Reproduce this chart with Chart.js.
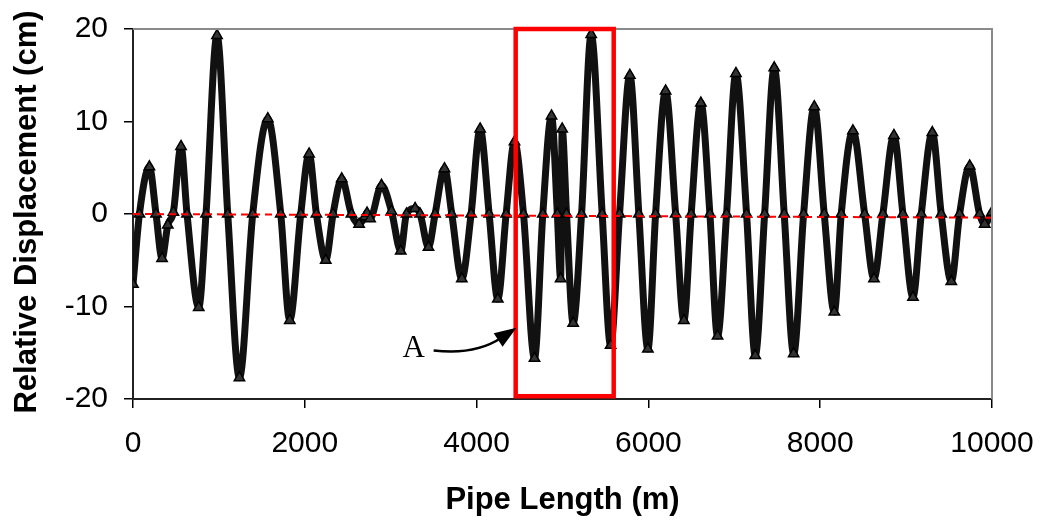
<!DOCTYPE html>
<html>
<head>
<meta charset="utf-8">
<script src="https://cdn.jsdelivr.net/npm/chart.js@4.4.1/dist/chart.umd.min.js"></script>
<style>
  html, body { margin: 0; padding: 0; background: #ffffff; }
  canvas { display: block; }
</style>
</head>
<body>
<canvas id="c" width="1045" height="523"></canvas>
<script>
// ---- Data ----
const pipeLength = [0,75,191,268,338,405,470,559,629,765,850,978,1103,1239,1394,1569,1720,1825,1953,2050,2135,2244,2329,2430,2543,2632,2700,2725,2760,2893,3009,3117,3184,3284,3342,3440,3517,3626,3711,3828,3936,4041,4146,4247,4344,4441,4546,4674,4771,4872,4940,4978,4996,5047,5124,5222,5334,5462,5560,5664,5784,5889,5994,6084,6200,6317,6413,6498,6611,6716,6805,6910,7019,7143,7244,7353,7465,7581,7691,7807,7931,8047,8164,8245,8381,8517,8626,8730,8858,8963,9080,9177,9305,9409,9526,9623,9740,9856,9915,10000];
const displacement = [-7.6,0,5.1,0,-4.8,-1.2,0.2,7.3,0,-10.1,0,19.3,0,-17.7,0,10.3,0,-11.5,0,6.5,0,-5.0,0,3.8,0,-1.1,-0.3,0.1,-0.5,3.1,0.3,-4.0,0,0.6,0,-3.6,0,4.9,0,-7.0,0,9.2,0,-9.2,0,7.8,0,-15.6,0,10.6,0,-7.0,9.2,0,-11.8,0,19.4,0,-14.2,0,15.0,0,-14.6,0,13.3,0,-11.5,0,12.0,0,-13.2,0,15.2,0,-15.3,0,15.8,0,-15.1,0,11.6,0,-10.6,0,9.0,0,-7.0,0,8.5,0,-9.0,0,8.8,0,-7.3,0,5.2,0,-1.1,0.2];
const trendLength = [0, 10000];
const trendDisplacement = [0, -0.4];
const xTicks = [0, 2000, 4000, 6000, 8000, 10000];
const yTicks = [-20, -10, 0, 10, 20];
const boxRange = { x0: 4455, x1: 5596, y0: 20, y1: -19.7 };
const labelA = 'A';
const xTitle = 'Pipe Length (m)';
const yTitle = 'Relative Displacement (cm)';

const mainPoints = pipeLength.map((x, i) => ({ x: x, y: displacement[i] }));
const trendPoints = trendLength.map((x, i) => ({ x: x, y: trendDisplacement[i] }));

const decorPlugin = {
  id: 'decor',
  afterDatasetsDraw(chart) {
    const ctx = chart.ctx;
    const xs = chart.scales.x, ys = chart.scales.y;
    const a = chart.chartArea;
    ctx.save();
    // top & right frame (gray)
    ctx.strokeStyle = '#8a8a8a';
    ctx.lineWidth = 2;
    ctx.beginPath();
    ctx.moveTo(a.left, a.top);
    ctx.lineTo(a.right, a.top);
    ctx.lineTo(a.right, a.bottom);
    ctx.stroke();
    // red box
    const bx0 = xs.getPixelForValue(boxRange.x0), bx1 = xs.getPixelForValue(boxRange.x1);
    const by0 = ys.getPixelForValue(boxRange.y0), by1 = ys.getPixelForValue(boxRange.y1);
    ctx.strokeStyle = '#ff0000';
    ctx.lineWidth = 4.5;
    ctx.strokeRect(bx0, by0, bx1 - bx0, by1 - by0);
    // label A and arrow
    const ax = xs.getPixelForValue(3268), ay = ys.getPixelForValue(-14.5);
    ctx.fillStyle = '#000';
    ctx.font = '31px "Liberation Serif"';
    ctx.textAlign = 'center';
    ctx.textBaseline = 'middle';
    ctx.fillText(labelA, ax, ay + 1);
    const sx = xs.getPixelForValue(3500), sy = ys.getPixelForValue(-14.75);
    const cx = xs.getPixelForValue(3979), cy = ys.getPixelForValue(-15.3);
    const tx = xs.getPixelForValue(4464), ty = ys.getPixelForValue(-12.3);
    ctx.strokeStyle = '#000';
    ctx.lineWidth = 2.5;
    const ang = Math.atan2(ty - cy, tx - cx);
    const hl = 22, hw = 8;
    const ex = tx - Math.cos(ang) * hl * 0.8, ey = ty - Math.sin(ang) * hl * 0.8;
    ctx.beginPath();
    ctx.moveTo(sx, sy);
    ctx.quadraticCurveTo(cx, cy, ex, ey);
    ctx.stroke();
    ctx.beginPath();
    ctx.moveTo(tx, ty);
    ctx.lineTo(tx - Math.cos(ang) * hl - Math.sin(ang) * hw, ty - Math.sin(ang) * hl + Math.cos(ang) * hw);
    ctx.lineTo(tx - Math.cos(ang) * hl + Math.sin(ang) * hw, ty - Math.sin(ang) * hl - Math.cos(ang) * hw);
    ctx.closePath();
    ctx.fill();
    ctx.restore();
  },
  afterDraw(chart) {
    const ctx = chart.ctx;
    const a = chart.chartArea;
    ctx.save();
    ctx.fillStyle = '#000';
    ctx.font = 'bold 31px "Liberation Sans"';
    ctx.textAlign = 'center';
    ctx.textBaseline = 'alphabetic';
    ctx.fillText(xTitle, (a.left + a.right) / 2, 509);
    ctx.translate(35.5, (a.top + a.bottom) / 2 - 2);
    ctx.rotate(-Math.PI / 2);
    ctx.fillText(yTitle, 0, 0);
    ctx.restore();
  }
};

new Chart(document.getElementById('c'), {
  type: 'scatter',
  data: {
    datasets: [
      {
        data: trendPoints,
        showLine: true,
        borderColor: '#ff0000',
        borderWidth: 2,
        borderDash: [7, 5],
        pointRadius: 0,
        order: 0
      },
      {
        data: mainPoints,
        showLine: true,
        borderColor: '#111111',
        borderWidth: 7,
        cubicInterpolationMode: 'monotone',
        pointStyle: 'triangle',
        pointRadius: 6,
        pointBorderColor: '#000',
        pointBackgroundColor: '#333',
        pointBorderWidth: 1.5,
        order: 1
      }
    ]
  },
  options: {
    responsive: false,
    animation: false,
    devicePixelRatio: 1,
    layout: { padding: { left: 0, top: 29, right: 53, bottom: 0 } },
    plugins: { legend: { display: false }, tooltip: { enabled: false } },
    scales: {
      x: {
        type: 'linear',
        min: 0, max: 10000,
        afterBuildTicks: s => { s.ticks = xTicks.map(v => ({ value: v })); },
        afterFit: s => { s.height = 124; s.paddingLeft = 0; s.paddingRight = 0; },
        ticks: { color: '#000', font: { family: 'Liberation Sans', size: 30 }, padding: 18, maxRotation: 0, autoSkip: false, callback: v => String(v) },
        grid: { drawOnChartArea: false, drawTicks: true, tickLength: 9, color: '#000', lineWidth: 1.5 },
        border: { display: true, color: '#222', width: 2 }
      },
      y: {
        type: 'linear',
        min: -20, max: 20,
        afterBuildTicks: s => { s.ticks = yTicks.map(v => ({ value: v })); },
        afterFit: s => { s.width = 133; s.paddingTop = 0; s.paddingBottom = 0; },
        ticks: { color: '#000', font: { family: 'Liberation Sans', size: 30 }, padding: 16, autoSkip: false, callback: v => String(v) },
        grid: { drawOnChartArea: false, drawTicks: true, tickLength: 9, color: '#000', lineWidth: 1.5 },
        border: { display: true, color: '#222', width: 2 }
      }
    }
  },
  plugins: [decorPlugin]
});
</script>
</body>
</html>
